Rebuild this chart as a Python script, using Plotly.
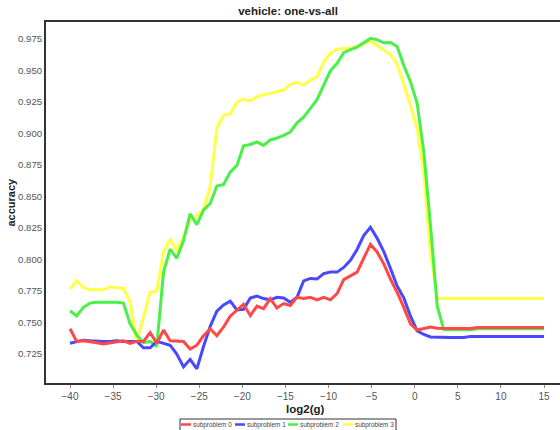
import plotly.graph_objects as go

# log2(g) grid of the parameter search
log2_g = [
    -40.00, -39.23, -38.45, -37.68, -36.90, -36.13, -35.35, -34.58, -33.80, -33.03,
    -32.25, -31.48, -30.70, -29.93, -29.15, -28.38, -27.61, -26.83, -26.06, -25.28,
    -24.51, -23.73, -22.96, -22.18, -21.41, -20.63, -19.86, -19.08, -18.31, -17.54,
    -16.76, -15.99, -15.21, -14.44, -13.66, -12.89, -12.11, -11.34, -10.56, -9.79,
    -9.01, -8.24, -7.46, -6.69, -5.92, -5.14, -4.37, -3.59, -2.82, -2.04,
    -1.27, -0.49, 0.28, 1.06, 1.83, 2.61, 3.38, 4.15, 4.93, 5.70,
    6.48, 7.25, 8.03, 8.80, 9.58, 10.35, 11.13, 11.90, 12.68, 13.45,
    14.23, 15.00,
]

acc_sub0 = [
    0.745, 0.735, 0.7355, 0.735, 0.734, 0.733, 0.734, 0.735, 0.7355, 0.7335,
    0.735, 0.735, 0.742, 0.7335, 0.744, 0.7355, 0.7355, 0.735, 0.729, 0.732,
    0.7395, 0.745, 0.7395, 0.7465, 0.755, 0.7595, 0.7645, 0.7555, 0.763, 0.761,
    0.769, 0.7615, 0.765, 0.7635, 0.770, 0.769, 0.770, 0.768, 0.770, 0.768,
    0.773, 0.784, 0.787, 0.790, 0.801, 0.812, 0.806, 0.7965, 0.7845, 0.774,
    0.762, 0.749, 0.744, 0.7455, 0.7465, 0.7455, 0.7452, 0.7452, 0.7452, 0.7452,
    0.7452, 0.746, 0.746, 0.746, 0.746, 0.746, 0.746, 0.746, 0.746, 0.746,
    0.746, 0.746,
]

acc_sub1 = [
    0.7335, 0.735, 0.736, 0.7355, 0.735, 0.735, 0.735, 0.7355, 0.735, 0.735,
    0.735, 0.730, 0.730, 0.735, 0.7335, 0.732, 0.725, 0.7148, 0.7208, 0.7132,
    0.731, 0.747, 0.759, 0.764, 0.767, 0.760, 0.7605, 0.7695, 0.771, 0.769,
    0.768, 0.770, 0.7695, 0.766, 0.770, 0.783, 0.785, 0.7845, 0.7888, 0.790,
    0.790, 0.7937, 0.7993, 0.808, 0.819, 0.8256, 0.817, 0.8063, 0.793, 0.779,
    0.7695, 0.755, 0.7434, 0.7405, 0.7385, 0.7382, 0.7382, 0.7382, 0.7382, 0.7382,
    0.739, 0.739, 0.739, 0.739, 0.739, 0.739, 0.739, 0.739, 0.739, 0.739,
    0.739, 0.739,
]

acc_sub2 = [
    0.7593, 0.7553, 0.762, 0.7654, 0.766, 0.766, 0.7664, 0.766, 0.7654, 0.749,
    0.740, 0.734, 0.735, 0.731, 0.790, 0.8083, 0.801, 0.815, 0.8363, 0.8277,
    0.8392, 0.8445, 0.8584, 0.8595, 0.8694, 0.8747, 0.8903, 0.8913, 0.8933, 0.8906,
    0.8949, 0.8964, 0.8986, 0.9012, 0.9085, 0.913, 0.920, 0.9268, 0.9384, 0.9497,
    0.9557, 0.9642, 0.9665, 0.9686, 0.972, 0.9755, 0.9745, 0.972, 0.9722, 0.969,
    0.954, 0.941, 0.924, 0.885, 0.827, 0.763, 0.7442, 0.7442, 0.7442, 0.7442,
    0.7442, 0.745, 0.745, 0.745, 0.745, 0.745, 0.745, 0.745, 0.745, 0.745,
    0.745, 0.745,
]

acc_sub3 = [
    0.7766, 0.7832, 0.7779, 0.776, 0.776, 0.776, 0.7784, 0.7775, 0.7772, 0.7665,
    0.7345, 0.754, 0.774, 0.7752, 0.806, 0.8155, 0.8077, 0.8177, 0.8323, 0.8343,
    0.840, 0.858, 0.904, 0.9145, 0.9156, 0.925, 0.9272, 0.9258, 0.9293, 0.9307,
    0.932, 0.9327, 0.9345, 0.9388, 0.9406, 0.9384, 0.9424, 0.945, 0.957, 0.9635,
    0.967, 0.9676, 0.9676, 0.9695, 0.971, 0.9733, 0.9695, 0.9662, 0.9626, 0.955,
    0.939, 0.9224, 0.904, 0.868, 0.805, 0.769, 0.769, 0.769, 0.769, 0.769,
    0.769, 0.769, 0.769, 0.769, 0.769, 0.769, 0.769, 0.769, 0.769, 0.769,
    0.769, 0.769,
]

series_names = ["subproblem 0", "subproblem 1", "subproblem 2", "subproblem 3"]
series_values = [acc_sub0, acc_sub1, acc_sub2, acc_sub3]
series_colors = ["#ff4848", "#4848ff", "#48f048", "#ffff48"]

x_ticks = [-40, -35, -30, -25, -20, -15, -10, -5, 0, 5, 10, 15]
y_ticks = [0.725, 0.750, 0.775, 0.800, 0.825, 0.850, 0.875, 0.900, 0.925, 0.950, 0.975]

FONT = "Liberation Sans, Arial, Helvetica, sans-serif"
W, H = 560, 430
ML, MR, MT, MB = 46, 0, 22, 47
PW, PH = W - ML - MR, H - MT - MB


def px_to_paper_x(px):
    return (px - ML) / PW


def px_to_paper_y(py):
    return (H - MB - py) / PH


fig = go.Figure()
# later subproblems underneath, subproblem 0 on top
for name, vals, col in reversed(list(zip(series_names, series_values, series_colors))):
    fig.add_trace(go.Scatter(
        x=log2_g, y=vals, mode="lines", name=name,
        line=dict(color=col, width=3), showlegend=False,
    ))

fig.update_layout(
    width=W, height=H,
    margin=dict(l=ML, r=MR, t=MT, b=MB),
    paper_bgcolor="white", plot_bgcolor="white",
    font=dict(family=FONT, size=10, color="#555555"),
    title=dict(text="<b>vehicle: one-vs-all</b>", x=288 / W, xref="container",
               xanchor="center", y=1 - 11 / H, yref="container", yanchor="middle",
               font=dict(family=FONT, size=11.5, color="#222222")),
    xaxis=dict(range=[-42.785, 16.857], tickvals=x_ticks, showgrid=False, zeroline=False,
               showline=True, linecolor="#333333", linewidth=2, mirror=True,
               ticks="outside", ticklen=3, tickcolor="#888888",
               tickfont=dict(family=FONT, size=10, color="#555555")),
    yaxis=dict(range=[0.702, 0.9885], tickvals=y_ticks, tickformat=".3f", showgrid=False,
               zeroline=False, showline=True, linecolor="#333333", linewidth=2,
               ticks="", tickfont=dict(family=FONT, size=9.6, color="#555555")),
)

annotations = [
    dict(text="<b>accuracy</b>", x=px_to_paper_x(10), y=0.5, xref="paper", yref="paper",
         textangle=-90, showarrow=False, xanchor="center", yanchor="middle",
         font=dict(family=FONT, size=11, color="#222222")),
    dict(text="<b>log2(g)</b>", x=px_to_paper_x(305), y=px_to_paper_y(409),
         xref="paper", yref="paper", showarrow=False, xanchor="center", yanchor="middle",
         font=dict(family=FONT, size=11.5, color="#222222")),
]

# legend box along the bottom edge
shapes = [dict(type="rect", xref="paper", yref="paper",
               x0=px_to_paper_x(180), x1=px_to_paper_x(396),
               y0=px_to_paper_y(419), y1=px_to_paper_y(440),
               line=dict(color="#333333", width=1), fillcolor="white", layer="above")]
sample_x0 = [181, 235, 288, 343]
for name, col, sx in zip(series_names, series_colors, sample_x0):
    shapes.append(dict(type="line", xref="paper", yref="paper",
                       x0=px_to_paper_x(sx), x1=px_to_paper_x(sx + 10),
                       y0=px_to_paper_y(424.5), y1=px_to_paper_y(424.5),
                       line=dict(color=col, width=2.5), layer="above"))
    annotations.append(dict(text=name, x=px_to_paper_x(sx + 10), y=px_to_paper_y(425),
                            xref="paper", yref="paper", showarrow=False,
                            xanchor="left", yanchor="middle",
                            font=dict(family=FONT, size=6.4, color="#444444")))

fig.update_layout(annotations=annotations, shapes=shapes)
fig.write_html("out.html")
